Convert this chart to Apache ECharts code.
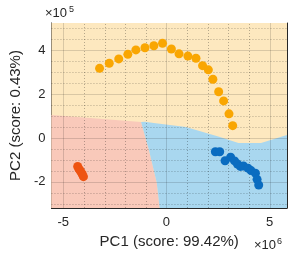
<!DOCTYPE html>
<html><head><meta charset="utf-8">
<script src="https://cdn.jsdelivr.net/npm/echarts@6/dist/echarts.min.js"></script>
<style>html,body{margin:0;padding:0;background:#fff}#c{width:296px;height:258px}</style>
</head><body><div id="c"></div>
<script>
// Axis limits (x in ×10^6, y in ×10^5)
const xRange = [-5.57, 5.84];
const yRange = [-3.2, 5.25];
const xTicks = [-5, 0, 5];
const yTicks = [-2, 0, 2, 4];
const xMinor = [-5, -4, -3, -2, -1, 0, 1, 2, 3, 4, 5];
const yMinor = [-3, -2.5, -2, -1.5, -1, -0.5, 0, 0.5, 1, 1.5, 2, 2.5, 3, 3.5, 4, 4.5, 5];
const xTitle = 'PC1 (score: 99.42%)';
const yTitle = 'PC2 (score: 0.43%)';

// Class 1 (yellow/orange) scores
const class1 = [
  [-3.24, 3.18], [-2.77, 3.41], [-2.31, 3.61], [-1.87, 3.82], [-1.48, 4.02],
  [-1.04, 4.12], [-0.61, 4.21], [-0.19, 4.32], [0.24, 4.06], [0.61, 3.84],
  [1.04, 3.74], [1.43, 3.64], [1.75, 3.30], [2.03, 3.11], [2.25, 2.68],
  [2.53, 2.11], [2.77, 1.69], [3.03, 1.10], [3.21, 0.56]
];
// Class 2 (red) scores
const class2 = [
  [-4.30, -1.30], [-4.25, -1.40], [-4.19, -1.48], [-4.13, -1.57], [-4.07, -1.67], [-4.02, -1.77]
];
// Class 3 (blue) scores
const class3 = [
  [2.37, -0.63], [2.58, -0.63], [2.84, -1.04], [3.11, -0.88], [3.30, -1.05],
  [3.44, -1.19], [3.58, -1.30], [3.73, -1.28], [3.95, -1.38], [4.10, -1.49],
  [4.31, -1.61], [4.39, -1.89], [4.47, -2.15]
];
// Decision regions (polygon vertices in data units)
const regionYellow = [[-5.57, 5.25], [5.84, 5.25], [5.84, -3.2], [-5.57, -3.2]];
const regionPink = [[-5.57, 1.05], [-1.23, 0.73], [-0.85, -0.55], [-0.47, -2.05], [-0.33, -3.2], [-5.57, -3.2]];
const regionBlue = [[-1.23, 0.73], [-1.05, 0.74], [-0.61, 0.68], [0.94, 0.50], [2.55, 0.05], [3.49, -0.23],
  [4.58, -0.23], [5.84, 0.14], [5.84, -3.2], [-0.33, -3.2], [-0.47, -2.05], [-0.85, -0.55]];

const colors = { c1: '#F9A602', c2: '#EE5412', c3: '#0A6CC0',
  r1: '#FDE8BF', r2: '#F9C9BA', r3: '#A9D7EF' };

// grid line items [x1,y1,x2,y2,isMajor]
const gridLines = [];
xMinor.forEach(v => gridLines.push([v, yRange[0], v, yRange[1], xTicks.includes(v) ? 1 : 0]));
yMinor.forEach(v => gridLines.push([xRange[0], v, xRange[1], v, yTicks.includes(v) ? 1 : 0]));

function region(pts, color, z) {
  return { type: 'custom', silent: true, z: z, clip: true, data: [[0, 0]],
    renderItem: (p, api) => ({ type: 'polygon',
      shape: { points: pts.map(q => api.coord(q)) },
      style: { fill: color, stroke: null } }) };
}

const axisColor = '#262626';
const font = 'Liberation Sans, Arial, sans-serif';
const chart = echarts.init(document.getElementById('c'), null, { renderer: 'canvas' });
chart.setOption({
  animation: false,
  grid: { left: 45, top: 23, width: 242, height: 185, containLabel: false },
  xAxis: [{
    type: 'value', min: xRange[0], max: xRange[1], position: 'bottom',
    axisLine: { show: true, onZero: false, lineStyle: { color: axisColor, width: 1 } },
    axisTick: { show: true, inside: true, length: 4, customValues: xTicks, lineStyle: { color: axisColor } },
    axisLabel: { show: true, customValues: xTicks, margin: 8, color: '#262626', fontSize: 13, fontFamily: font },
    splitLine: { show: false },
    name: xTitle, nameLocation: 'middle', nameGap: 25,
    nameTextStyle: { fontSize: 15, color: '#262626', fontFamily: font }
  }, {
    type: 'value', min: xRange[0], max: xRange[1], position: 'top',
    axisLine: { show: true, onZero: false, lineStyle: { color: axisColor, width: 1 } },
    axisTick: { show: true, inside: true, length: 4, customValues: xTicks, lineStyle: { color: axisColor } },
    axisLabel: { show: false }, splitLine: { show: false }
  }],
  yAxis: [{
    type: 'value', min: yRange[0], max: yRange[1], position: 'left',
    axisLine: { show: true, onZero: false, lineStyle: { color: axisColor, width: 1 } },
    axisTick: { show: true, inside: true, length: 4, customValues: yTicks, lineStyle: { color: axisColor } },
    axisLabel: { show: true, customValues: yTicks, margin: 6, color: '#262626', fontSize: 13, fontFamily: font },
    splitLine: { show: false },
    name: yTitle, nameLocation: 'middle', nameGap: 22, nameRotate: 90,
    nameTextStyle: { fontSize: 15, color: '#262626', fontFamily: font }
  }, {
    type: 'value', min: yRange[0], max: yRange[1], position: 'right',
    axisLine: { show: true, onZero: false, lineStyle: { color: axisColor, width: 1 } },
    axisTick: { show: true, inside: true, length: 4, customValues: yTicks, lineStyle: { color: axisColor } },
    axisLabel: { show: false }, splitLine: { show: false }
  }],
  graphic: [
    { type: 'text', x: 45, y: 20, style: { text: '×10', fontSize: 13, fontFamily: font, fill: '#262626', textVerticalAlign: 'bottom' } },
    { type: 'text', x: 69, y: 14, style: { text: '5', fontSize: 9, fontFamily: font, fill: '#262626', textVerticalAlign: 'bottom' } },
    { type: 'text', x: 254, y: 252, style: { text: '×10', fontSize: 13, fontFamily: font, fill: '#262626', textVerticalAlign: 'bottom' } },
    { type: 'text', x: 277, y: 246, style: { text: '6', fontSize: 9, fontFamily: font, fill: '#262626', textVerticalAlign: 'bottom' } }
  ],
  series: [
    region(regionYellow, colors.r1, 1),
    region(regionPink, colors.r2, 2),
    region(regionBlue, colors.r3, 3),
    { type: 'custom', silent: true, z: 4, clip: true,
      dimensions: ['x1', 'y1', 'x2', 'y2', 'major'],
      encode: { x: [0, 2], y: [1, 3] },
      data: gridLines,
      renderItem: (p, api) => {
        const a = api.coord([api.value(0), api.value(1)]);
        const b = api.coord([api.value(2), api.value(3)]);
        const major = api.value(4) === 1;
        const vert = api.value(0) === api.value(2);
        const sx = vert ? Math.round(a[0]) + 0.5 : a[0];
        const ex = vert ? Math.round(b[0]) + 0.5 : b[0];
        const sy = vert ? a[1] : Math.round(a[1]) + 0.5;
        const ey = vert ? b[1] : Math.round(b[1]) + 0.5;
        return { type: 'line', shape: { x1: sx, y1: sy, x2: ex, y2: ey },
          style: { stroke: major ? 'rgba(0,0,0,0.14)' : 'rgba(0,0,0,0.28)', lineWidth: 1,
            lineDash: major ? null : [1, 2] } };
      } },
    { type: 'scatter', z: 5, data: class1, symbolSize: 9, itemStyle: { color: colors.c1, opacity: 1 } },
    { type: 'scatter', z: 5, data: class2, symbolSize: 9, itemStyle: { color: colors.c2, opacity: 1 } },
    { type: 'scatter', z: 5, data: class3, symbolSize: 9, itemStyle: { color: colors.c3, opacity: 1 } }
  ]
});
</script></body></html>
